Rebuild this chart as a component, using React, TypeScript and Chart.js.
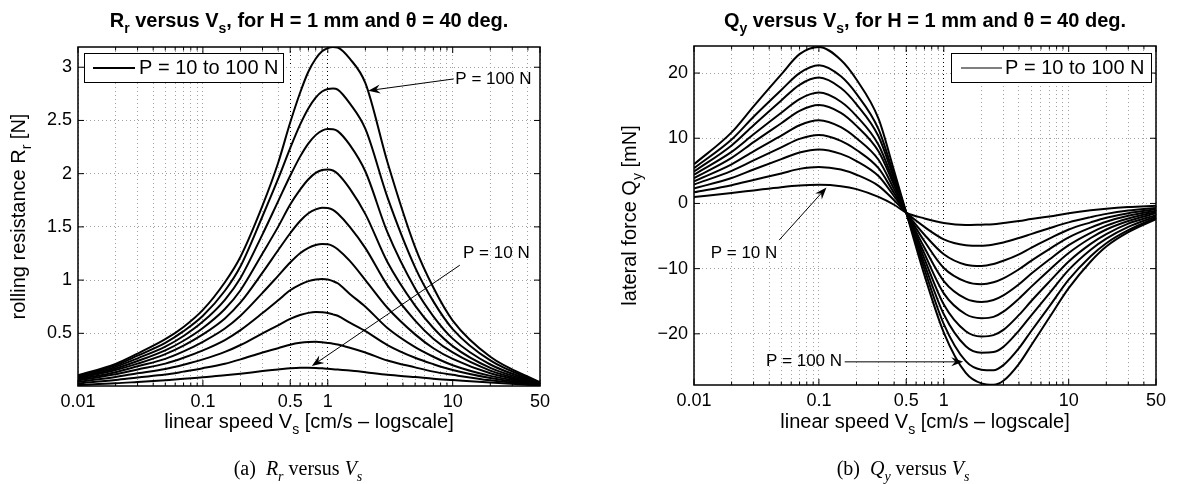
import React, { useEffect, useRef } from 'react';
import { Chart, registerables } from 'chart.js';

Chart.register(...registerables);

const SANS = '"Liberation Sans", Arial, Helvetica, sans-serif';
const SERIF = '"Liberation Serif", "Times New Roman", serif';

const LOADS = [10, 20, 30, 40, 50, 60, 70, 80, 90, 100];

// x grid (log decades) and labelled ticks
const X_GRID = [0.01, 0.02, 0.03, 0.04, 0.05, 0.06, 0.07, 0.08, 0.09, 0.1, 0.2, 0.3, 0.4, 0.5, 0.6, 0.7, 0.8, 0.9, 1, 2, 3, 4, 5, 6, 7, 8, 9, 10, 20, 30, 40, 50];
const X_TICKS = [0.01, 0.1, 0.5, 1, 10, 50];
const X_TICK_LABELS = ['0.01', '0.1', '0.5', '1', '10', '50'];
const X_DARK = [0.5, 1];

// ---- (a) rolling resistance Rr [N] ----
const RR_X = [0.01, 0.02, 0.03, 0.05, 0.07, 0.1, 0.15, 0.2, 0.3, 0.4, 0.5, 0.6, 0.7, 0.8, 0.9, 1, 1.1, 1.2, 1.5, 2, 3, 5, 7, 10, 20, 50];
const RR_P10 = [0.015, 0.03, 0.043, 0.06, 0.072, 0.088, 0.105, 0.12, 0.145, 0.16, 0.172, 0.177, 0.176, 0.174, 0.171, 0.167, 0.163, 0.159, 0.15, 0.134, 0.11, 0.089, 0.073, 0.061, 0.038, 0.01];
const RR_P20 = [0.03, 0.062, 0.085, 0.112, 0.14, 0.172, 0.214, 0.255, 0.32, 0.36, 0.393, 0.411, 0.419, 0.42, 0.417, 0.41, 0.403, 0.395, 0.365, 0.32, 0.245, 0.18, 0.14, 0.11, 0.058, 0.012];
const RR_P30 = [0.045, 0.09, 0.125, 0.165, 0.205, 0.255, 0.325, 0.39, 0.5, 0.575, 0.635, 0.672, 0.692, 0.7, 0.698, 0.69, 0.678, 0.665, 0.6, 0.52, 0.39, 0.27, 0.21, 0.155, 0.08, 0.015];
const RR_P40 = [0.058, 0.115, 0.16, 0.215, 0.27, 0.34, 0.437, 0.53, 0.69, 0.81, 0.905, 0.958, 0.99, 1.005, 1.01, 1.005, 0.99, 0.97, 0.87, 0.75, 0.55, 0.37, 0.28, 0.2, 0.1, 0.017];
const RR_P50 = [0.068, 0.135, 0.19, 0.26, 0.33, 0.42, 0.545, 0.665, 0.88, 1.04, 1.165, 1.252, 1.303, 1.33, 1.34, 1.337, 1.32, 1.29, 1.18, 1.0, 0.74, 0.49, 0.36, 0.26, 0.125, 0.02];
const RR_P60 = [0.078, 0.155, 0.215, 0.305, 0.385, 0.49, 0.64, 0.79, 1.07, 1.28, 1.44, 1.555, 1.628, 1.665, 1.68, 1.677, 1.66, 1.625, 1.5, 1.3, 0.95, 0.62, 0.45, 0.32, 0.15, 0.024];
const RR_P70 = [0.086, 0.17, 0.24, 0.34, 0.43, 0.55, 0.728, 0.905, 1.25, 1.5, 1.71, 1.85, 1.948, 2.008, 2.035, 2.04, 2.03, 2.0, 1.86, 1.62, 1.17, 0.76, 0.55, 0.38, 0.176, 0.028];
const RR_P80 = [0.093, 0.185, 0.265, 0.375, 0.475, 0.61, 0.815, 1.02, 1.43, 1.74, 1.98, 2.16, 2.285, 2.362, 2.405, 2.42, 2.418, 2.4, 2.27, 2.02, 1.45, 0.92, 0.66, 0.45, 0.207, 0.032];
const RR_P90 = [0.099, 0.2, 0.29, 0.41, 0.52, 0.665, 0.9, 1.13, 1.6, 1.95, 2.24, 2.46, 2.615, 2.715, 2.772, 2.795, 2.8, 2.79, 2.66, 2.42, 1.78, 1.12, 0.8, 0.54, 0.245, 0.036];
const RR_P100 = [0.105, 0.213, 0.31, 0.445, 0.56, 0.72, 0.98, 1.22, 1.7, 2.1, 2.48, 2.76, 2.96, 3.08, 3.15, 3.18, 3.19, 3.185, 3.08, 2.85, 2.11, 1.31, 0.93, 0.62, 0.28, 0.04];
const RR_Y_TICKS = [0.5, 1, 1.5, 2, 2.5, 3];
const RR_Y_LABELS = ['0.5', '1', '1.5', '2', '2.5', '3'];

// ---- (b) lateral force Qy [mN] ----
const QY_X = [0.01, 0.02, 0.03, 0.05, 0.07, 0.1, 0.15, 0.2, 0.3, 0.4, 0.5, 0.7, 1, 1.5, 2, 2.5, 3, 4, 5, 7, 10, 15, 20, 30, 50];
const QY_P10 = [1.0, 1.6, 2.0, 2.5, 2.75, 2.85, 2.65, 2.2, 1.0, -0.2, -1.4, -2.3, -3.0, -3.3, -3.25, -3.2, -3.0, -2.7, -2.4, -2.0, -1.5, -1.05, -0.8, -0.55, -0.35];
const QY_P20 = [1.7, 2.8, 3.6, 4.6, 5.3, 5.6, 5.2, 4.4, 2.7, 0.5, -1.4, -3.6, -5.5, -6.4, -6.5, -6.3, -6.0, -5.3, -4.7, -3.8, -2.9, -2.1, -1.6, -1.1, -0.7];
const QY_P30 = [2.3, 3.9, 5.2, 6.8, 7.8, 8.27, 7.6, 6.5, 4.2, 1.1, -1.4, -4.8, -7.8, -9.4, -9.6, -9.3, -8.8, -7.8, -6.8, -5.4, -4.0, -2.9, -2.2, -1.5, -0.9];
const QY_P40 = [2.9, 5.0, 6.6, 8.6, 9.9, 10.5, 9.6, 8.2, 5.4, 1.6, -1.4, -5.8, -9.9, -12.0, -12.4, -12.1, -11.5, -10.1, -8.8, -7.0, -5.2, -3.7, -2.8, -1.9, -1.1];
const QY_P50 = [3.4, 6.0, 8.0, 10.4, 12.0, 12.76, 11.7, 10.0, 6.7, 2.2, -1.4, -6.8, -11.9, -14.6, -15.1, -14.8, -14.1, -12.4, -10.8, -8.6, -6.4, -4.5, -3.4, -2.3, -1.3];
const QY_P60 = [3.9, 7.0, 9.4, 12.3, 14.2, 15.1, 13.9, 11.9, 8.0, 2.8, -1.4, -7.7, -13.8, -17.0, -17.6, -17.4, -16.6, -14.6, -12.8, -10.2, -7.6, -5.3, -4.0, -2.7, -1.5];
const QY_P70 = [4.4, 7.9, 10.6, 13.9, 16.0, 17.0, 15.6, 13.4, 9.0, 3.2, -1.4, -8.5, -15.5, -19.6, -20.4, -20.2, -19.4, -17.1, -15.0, -12.0, -8.9, -6.2, -4.7, -3.1, -1.8];
const QY_P80 = [4.9, 8.9, 12.0, 15.8, 18.2, 19.3, 17.7, 15.2, 10.3, 3.8, -1.4, -9.3, -17.0, -21.9, -22.9, -22.8, -22.0, -19.5, -17.2, -13.8, -10.2, -7.1, -5.4, -3.6, -2.0];
const QY_P90 = [5.4, 9.8, 13.3, 17.4, 20.0, 21.2, 19.5, 16.8, 11.4, 4.3, -1.4, -10.1, -18.5, -24.2, -25.5, -25.6, -24.8, -22.2, -19.6, -15.8, -11.7, -8.1, -6.1, -4.1, -2.2];
const QY_P100 = [6.0, 10.9, 14.9, 19.8, 22.9, 24.0, 22.0, 19.0, 13.0, 5.0, -1.4, -11.0, -19.8, -26.0, -27.6, -27.8, -27.2, -24.6, -21.8, -17.5, -13.0, -8.9, -6.6, -4.4, -2.4];
const QY_Y_TICKS = [-20, -10, 0, 10, 20];
const QY_Y_LABELS = ['\u221220', '\u221210', '0', '10', '20'];

type Seg = { t: string; sub?: boolean; it?: boolean };

function drawRich(
  ctx: CanvasRenderingContext2D,
  segs: Seg[],
  x: number,
  y: number,
  size: number,
  family: string,
  weight: string,
  align: 'left' | 'center',
  rotate = false
) {
  ctx.save();
  ctx.translate(x, y);
  if (rotate) ctx.rotate(-Math.PI / 2);
  ctx.textAlign = 'left';
  ctx.textBaseline = 'alphabetic';
  ctx.fillStyle = '#000';
  const fontOf = (s: Seg) => `${s.it ? 'italic ' : ''}${weight} ${s.sub ? Math.round(size * 0.72) : size}px ${family}`;
  const widths = segs.map((s) => {
    ctx.font = fontOf(s);
    return ctx.measureText(s.t).width;
  });
  const total = widths.reduce((a, b) => a + b, 0);
  let cx = align === 'center' ? -total / 2 : 0;
  segs.forEach((s, i) => {
    ctx.font = fontOf(s);
    ctx.fillText(s.t, cx, s.sub ? size * 0.3 : 0);
    cx += widths[i];
  });
  ctx.restore();
}

function drawArrow(ctx: CanvasRenderingContext2D, x0: number, y0: number, x1: number, y1: number) {
  ctx.save();
  ctx.strokeStyle = '#000';
  ctx.fillStyle = '#000';
  ctx.lineWidth = 1;
  const ang = Math.atan2(y1 - y0, x1 - x0);
  const rot = (dx: number, dy: number) => [x1 + dx * Math.cos(ang) - dy * Math.sin(ang), y1 + dx * Math.sin(ang) + dy * Math.cos(ang)];
  const back = rot(-8, 0);
  ctx.beginPath();
  ctx.moveTo(x0, y0);
  ctx.lineTo(back[0], back[1]);
  ctx.stroke();
  const a = rot(-12, 4.5);
  const b = rot(-8, 0);
  const c = rot(-12, -4.5);
  ctx.beginPath();
  ctx.moveTo(x1, y1);
  ctx.lineTo(a[0], a[1]);
  ctx.lineTo(b[0], b[1]);
  ctx.lineTo(c[0], c[1]);
  ctx.closePath();
  ctx.fill();
  ctx.restore();
}

type Note = { text: string; tx: number; ty: number; fx: number; fy: number; px: number; py: number };
type Panel = {
  width: number;
  area: { left: number; right: number; top: number; bottom: number };
  xs: number[];
  series: number[][];
  yMin: number;
  yMax: number;
  yTicks: number[];
  yLabels: string[];
  title: Seg[];
  yTitle: Seg[];
  yTitleX: number;
  caption: Seg[];
  captionX: number;
  legend: { x: number; y: number; w: number; h: number; l0: number; l1: number; lw: number; tx: number };
  notes: Note[];
};

function makeConfig(p: Panel): any {
  const datasets = p.series.map((ys, i) => ({
    label: `P = ${LOADS[i]} N`,
    data: p.xs.map((x, j) => ({ x, y: ys[j] })),
    borderColor: '#000',
    borderWidth: 2,
    pointRadius: 0,
    fill: false,
    cubicInterpolationMode: 'monotone',
  }));

  const decor = {
    id: 'decor',
    afterDraw(chart: any) {
      const { ctx, chartArea: a, scales } = chart;
      const sx = scales.x;
      const sy = scales.y;
      ctx.save();
      // axes box
      ctx.strokeStyle = '#000';
      ctx.lineWidth = 1.5;
      ctx.strokeRect(a.left, a.top, a.right - a.left, a.bottom - a.top);
      // inner ticks
      ctx.lineWidth = 1;
      ctx.beginPath();
      X_GRID.forEach((v) => {
        const px = sx.getPixelForValue(v);
        const len = X_TICKS.includes(v) ? 6 : 3.5;
        ctx.moveTo(px, a.bottom);
        ctx.lineTo(px, a.bottom - len);
        ctx.moveTo(px, a.top);
        ctx.lineTo(px, a.top + len);
      });
      p.yTicks.forEach((v) => {
        const py = sy.getPixelForValue(v);
        ctx.moveTo(a.left, py);
        ctx.lineTo(a.left + 6, py);
        ctx.moveTo(a.right, py);
        ctx.lineTo(a.right - 6, py);
      });
      ctx.stroke();

      // legend
      const L = p.legend;
      ctx.fillStyle = '#fff';
      ctx.fillRect(L.x, L.y, L.w, L.h);
      ctx.strokeStyle = '#000';
      ctx.lineWidth = 1;
      ctx.strokeRect(L.x + 0.5, L.y + 0.5, L.w, L.h);
      ctx.lineWidth = L.lw;
      ctx.beginPath();
      ctx.moveTo(L.l0, L.y + L.h / 2 + 0.5);
      ctx.lineTo(L.l1, L.y + L.h / 2 + 0.5);
      ctx.stroke();
      ctx.fillStyle = '#000';
      ctx.font = `20px ${SANS}`;
      ctx.textBaseline = 'middle';
      ctx.textAlign = 'left';
      ctx.fillText('P = 10 to 100 N', L.tx, L.y + L.h / 2 + 1);

      // annotations
      p.notes.forEach((n) => {
        ctx.font = `17px ${SANS}`;
        ctx.textBaseline = 'middle';
        ctx.textAlign = 'left';
        ctx.fillStyle = '#000';
        ctx.fillText(n.text, sx.getPixelForValue(n.tx), sy.getPixelForValue(n.ty));
        drawArrow(ctx, sx.getPixelForValue(n.fx), sy.getPixelForValue(n.fy), sx.getPixelForValue(n.px), sy.getPixelForValue(n.py));
      });

      const cx = (a.left + a.right) / 2;
      const cy = (a.top + a.bottom) / 2;
      drawRich(ctx, p.title, cx, 27, 20, SANS, 'bold', 'center');
      drawRich(ctx, [{ t: 'linear speed V' }, { t: 's', sub: true }, { t: ' [cm/s \u2013 logscale]' }], cx, 428, 20, SANS, 'normal', 'center');
      drawRich(ctx, p.yTitle, p.yTitleX, cy, 20, SANS, 'normal', 'center', true);
      drawRich(ctx, p.caption, p.captionX, 475, 20, SERIF, 'normal', 'center');
      ctx.restore();
    },
  };

  const xAxisHeight = 484 - p.area.bottom;
  const yAxisWidth = p.area.left;

  return {
    type: 'line',
    data: { datasets },
    options: {
      responsive: false,
      maintainAspectRatio: false,
      animation: false,
      devicePixelRatio: 1,
      events: [],
      layout: { padding: { left: 0, bottom: 0, top: p.area.top, right: p.width - p.area.right } },
      plugins: { legend: { display: false }, title: { display: false }, tooltip: { enabled: false } },
      scales: {
        x: {
          type: 'logarithmic',
          min: 0.01,
          max: 50,
          afterBuildTicks: (s: any) => {
            s.ticks = X_GRID.map((v) => ({ value: v }));
          },
          afterFit: (s: any) => {
            s.height = xAxisHeight;
          },
          ticks: {
            autoSkip: false,
            maxRotation: 0,
            minRotation: 0,
            padding: 5,
            color: '#000',
            font: { family: SANS, size: 18 },
            callback: (v: number) => {
              const i = X_TICKS.indexOf(v);
              return i >= 0 ? X_TICK_LABELS[i] : '';
            },
          },
          grid: {
            drawTicks: false,
            lineWidth: 1,
            color: (c: any) => (c.tick && X_DARK.includes(c.tick.value) ? '#000' : '#a0a0a0'),
          },
          border: { display: false, dash: [1, 3] },
        },
        y: {
          type: 'linear',
          min: p.yMin,
          max: p.yMax,
          afterBuildTicks: (s: any) => {
            s.ticks = p.yTicks.map((v) => ({ value: v }));
          },
          afterFit: (s: any) => {
            s.width = yAxisWidth;
          },
          ticks: {
            padding: 6,
            color: '#000',
            font: { family: SANS, size: 18 },
            callback: (v: number) => {
              const i = p.yTicks.indexOf(v);
              return i >= 0 ? p.yLabels[i] : '';
            },
          },
          grid: { drawTicks: false, lineWidth: 1, color: '#a0a0a0' },
          border: { display: false, dash: [1, 3] },
        },
      },
    },
    plugins: [decor],
  };
}

const PANEL_A: Panel = {
  width: 590,
  area: { left: 78, right: 540, top: 47, bottom: 386 },
  xs: RR_X,
  series: [RR_P10, RR_P20, RR_P30, RR_P40, RR_P50, RR_P60, RR_P70, RR_P80, RR_P90, RR_P100],
  yMin: 0.005,
  yMax: 3.19,
  yTicks: RR_Y_TICKS,
  yLabels: RR_Y_LABELS,
  title: [{ t: 'R' }, { t: 'r', sub: true }, { t: ' versus V' }, { t: 's', sub: true }, { t: ', for H = 1 mm and \u03b8 = 40 deg.' }],
  yTitle: [{ t: 'rolling resistance R' }, { t: 'r', sub: true }, { t: ' [N]' }],
  yTitleX: 25,
  caption: [{ t: '(a)  ' }, { t: 'R', it: true }, { t: 'r', it: true, sub: true }, { t: ' versus ' }, { t: 'V', it: true }, { t: 's', it: true, sub: true }],
  captionX: 298,
  legend: { x: 84, y: 53, w: 199, h: 29, l0: 93, l1: 135, lw: 2, tx: 139 },
  notes: [
    { text: 'P = 100 N', tx: 10.5, ty: 2.89, fx: 10.2, fy: 2.89, px: 2.11, py: 2.78 },
    { text: 'P = 10 N', tx: 12.1, ty: 1.25, fx: 11.4, fy: 1.14, px: 0.745, py: 0.193 },
  ],
};

const PANEL_B: Panel = {
  width: 587,
  area: { left: 104, right: 566, top: 46, bottom: 385 },
  xs: QY_X,
  series: [QY_P10, QY_P20, QY_P30, QY_P40, QY_P50, QY_P60, QY_P70, QY_P80, QY_P90, QY_P100],
  yMin: -27.85,
  yMax: 24.15,
  yTicks: QY_Y_TICKS,
  yLabels: QY_Y_LABELS,
  title: [{ t: 'Q' }, { t: 'y', sub: true }, { t: ' versus V' }, { t: 's', sub: true }, { t: ', for H = 1 mm and \u03b8 = 40 deg.' }],
  yTitle: [{ t: 'lateral force Q' }, { t: 'y', sub: true }, { t: ' [mN]' }],
  yTitleX: 46,
  caption: [{ t: '(b)  ' }, { t: 'Q', it: true }, { t: 'y', it: true, sub: true }, { t: ' versus ' }, { t: 'V', it: true }, { t: 's', it: true, sub: true }],
  captionX: 313,
  legend: { x: 361, y: 53, w: 200, h: 29, l0: 371, l1: 412, lw: 1, tx: 415 },
  notes: [
    { text: 'P = 10 N', tx: 0.0136, ty: -7.66, fx: 0.0481, fy: -5.62, px: 0.115, py: 2.45 },
    { text: 'P = 100 N', tx: 0.0377, ty: -24.26, fx: 0.161, fy: -24.3, px: 1.43, py: -24.3 },
  ],
};

function PlotPanel({ panel, left }: { panel: Panel; left: number }) {
  const ref = useRef<HTMLCanvasElement | null>(null);
  useEffect(() => {
    if (!ref.current) return;
    const chart = new Chart(ref.current, makeConfig(panel));
    return () => chart.destroy();
  }, [panel]);
  return (
    <canvas
      ref={ref}
      width={panel.width}
      height={484}
      style={{ position: 'absolute', left, top: 0, width: panel.width, height: 484 }}
    />
  );
}

export default function App() {
  return (
    <div style={{ position: 'absolute', left: 0, top: 0, width: 1177, height: 484, background: '#fff', overflow: 'hidden' }}>
      <PlotPanel panel={PANEL_A} left={0} />
      <PlotPanel panel={PANEL_B} left={590} />
    </div>
  );
}
